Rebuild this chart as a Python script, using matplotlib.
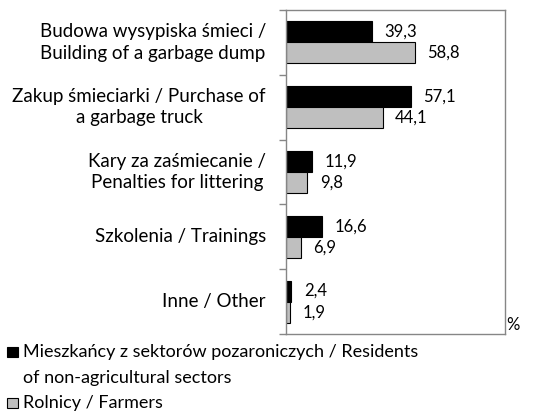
import matplotlib.pyplot as plt
from matplotlib.patches import Rectangle

categories = ['Budowa wysypiska śmieci /\nBuilding of a garbage dump',
              'Zakup śmieciarki / Purchase of\na garbage truck',
              'Kary za zaśmiecanie /\nPenalties for littering',
              'Szkolenia / Trainings',
              'Inne / Other']
residents = [39.3, 57.1, 11.9, 16.6, 2.4]
farmers = [58.8, 44.1, 9.8, 6.9, 1.9]
series_names = ['Mieszkańcy z sektorów pozaroniczych / Residents\nof non-agricultural sectors',
                'Rolnicy / Farmers']
colors = ['black', '#bfbfbf']

plt.rcParams['font.family'] = ['Lato', 'DejaVu Sans']

W, H = 548, 411
fig = plt.figure(figsize=(W/100, H/100), dpi=100)
ax = fig.add_axes([286/W, 77/H, 219/W, 324/H])

h = 0.325
pos = list(range(len(categories)))
ax.barh([p - h/2 for p in pos], residents, height=h, color=colors[0], edgecolor='black', linewidth=0.8)
ax.barh([p + h/2 for p in pos], farmers, height=h, color=colors[1], edgecolor='black', linewidth=0.8)

for p, v in zip(pos, residents):
    ax.annotate(f'{v:.1f}'.replace('.', ','), (v, p - h/2), xytext=(9, 0),
                textcoords='offset points', va='center', ha='left', fontsize=12)
for p, v in zip(pos, farmers):
    ax.annotate(f'{v:.1f}'.replace('.', ','), (v, p + h/2), xytext=(9, 0),
                textcoords='offset points', va='center', ha='left', fontsize=12)

ax.set_xlim(0, 100)
ax.set_ylim(4.5, -0.5)
ax.set_xticks([])
ax.set_yticks([p - 0.5 for p in range(len(categories) + 1)])
ax.set_yticklabels([])
ax.tick_params(axis='y', length=5, color='#868686', width=1)
for p, c in zip(pos, categories):
    ax.text(-20/219*100, p, c, ha='right', va='center', multialignment='center',
            fontsize=13.5, linespacing=1.3)
for s in ax.spines.values():
    s.set_color('#868686')
    s.set_linewidth(1)

fig.text(506/W, 1 - 325/H, '%', fontsize=12, va='center', ha='left')

# legend drawn by hand so the square sits on the first line
y = 352
for name, col in zip(series_names, colors):
    fig.patches.append(Rectangle((7/W, 1 - (y + 5)/H), 11/W, 10/H, transform=fig.transFigure,
                                 facecolor=col, edgecolor='black', linewidth=0.8))
    for line in name.split('\n'):
        fig.text(23/W, 1 - y/H, line, fontsize=13, va='center', ha='left')
        y += 25.5

fig.savefig('out.png', dpi=100)
